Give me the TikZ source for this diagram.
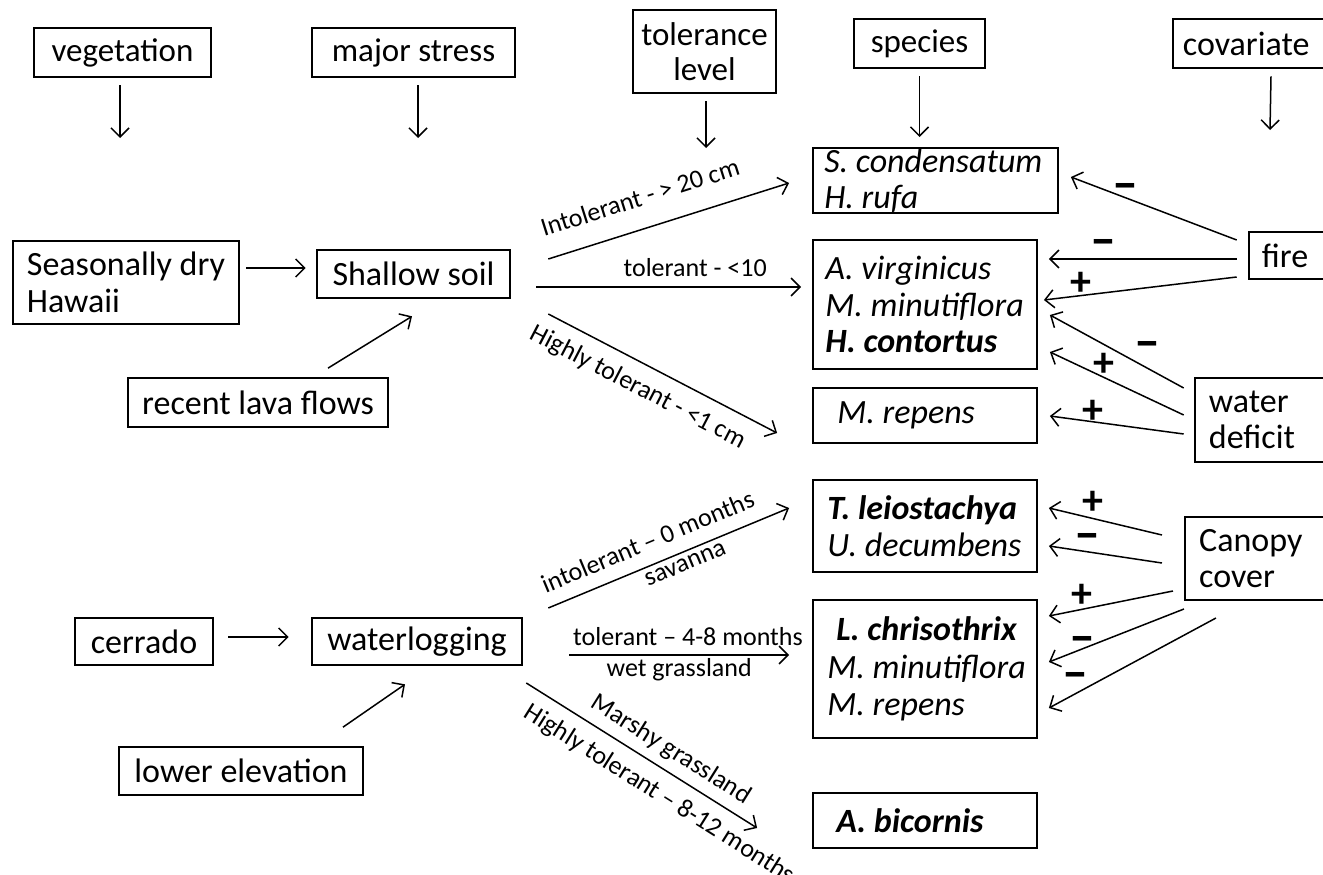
\documentclass[tikz,border=0pt]{standalone}
\usepackage{fontspec}
\setmainfont{Carlito}
\usetikzlibrary{arrows.meta,calc}
\tikzset{
 box/.style={draw, line width=2.6pt, inner xsep=4pt, inner ysep=0pt, font=\fontsize{34}{36.5}\selectfont},
 boxtext/.style={inner sep=0pt, anchor=west, align=left, font=\fontsize{34}{36.5}\selectfont},
 arr/.style={line width=1.5pt, -{Straight Barb[length=9pt,width=18pt]}},
 lab/.style={font=\fontsize{26}{28}\selectfont, sloped, anchor=center, inner sep=0pt, text height=7pt, text depth=2pt},
 minussgn/.style={font=\fontsize{52}{52}\bfseries\selectfont, inner sep=0pt, text height=27pt, text depth=0pt},
 plussgn/.style={font=\fontsize{42}{42}\bfseries\selectfont, inner sep=0pt, text height=28pt, text depth=0pt},
}
% left-aligned box: [opts]{name}{x1}{y1}{x2}{y2}{xsep}{text}
\newcommand{\mybox}[8][]{%
 \pgfmathsetmacro\myBW{#5-#3}\pgfmathsetmacro\myBH{#6-#4}%
 \pgfmathsetmacro\myCX{(#3+#5)/2}\pgfmathsetmacro\myCY{(#4+#6)/2}%
 \node[box,minimum width=\myBW pt,minimum height=\myBH pt,#1] (#2) at (\myCX,\myCY) {};
 \node[boxtext] (#2-t) at ($(#2.west)+(#7,0)$) {#8};}
% centred box: [opts]{name}{x1}{y1}{x2}{y2}{text}
\newcommand{\mycbox}[7][]{%
 \pgfmathsetmacro\myBW{#5-#3}\pgfmathsetmacro\myBH{#6-#4}%
 \pgfmathsetmacro\myCX{(#3+#5)/2}\pgfmathsetmacro\myCY{(#4+#6)/2}%
 \node[box,align=center,minimum width=\myBW pt,minimum height=\myBH pt,#1] (#2) at (\myCX,\myCY) {#7};}
\begin{document}
\begin{tikzpicture}[x=1pt,y=-1pt]
\fill[white] (0,0) rectangle (1323,875);
\useasboundingbox (0,0) rectangle (1323,875);

% header row
\mycbox[font=\fontsize{33}{35}\selectfont]{veg}{34}{28}{211}{77}{vegetation}
\mycbox[font=\fontsize{33}{35}\selectfont]{ms}{312}{28}{515}{77}{major stress}
\mycbox[font=\fontsize{33}{35}\selectfont]{tol}{633}{10}{776}{93}{tolerance\\level}
\mycbox[font=\fontsize{33}{35}\selectfont]{spc}{854}{19}{985}{68}{species}
\mybox{cov}{1173}{19}{1332}{68}{11}{covariate}

\coordinate (vegE) at (120,138);
\coordinate (msE) at (418,138);
\coordinate (tolE) at (706,148);
\coordinate (spcE) at (919.5,137);
\coordinate (covE) at (1270,130);
\draw[arr] ($(veg.south)+(-2.5,7)$) -- (vegE);
\draw[arr] ($(ms.south)+(4.5,7)$) -- (msE);
\draw[arr] ($(tol.south)+(1.5,7)$) -- (tolE);
\draw[arr] ($(spc.south)+(0,7)$) -- (spcE);
\draw[arr] ($(cov.south)+(18.5,7)$) -- (covE);

% left column
\mybox{sd}{13}{241}{239}{324}{15}{Seasonally dry\\Hawaii}
\mycbox{ss}{317}{250}{510}{298}{Shallow soil}
\mycbox[line width=1.7pt]{lava}{128}{378}{388}{427}{recent lava flows}
\mycbox{cer}{75}{618}{213}{665}{cerrado}
\mycbox{wl}{312}{618}{522}{665}{waterlogging}
\mycbox[line width=1.7pt]{le}{119}{747}{363}{795}{lower elevation}

% species
\mybox[line width=1.8pt]{sc}{813}{148}{1058}{213}{12}{\textit{S. condensatum}\\\textit{H. rufa}}
\mybox[line width=1.8pt]{av}{813}{240}{1037}{369}{13}{\textit{A. virginicus}\\\textit{M. minutiflora}\\\textbf{\textit{H. contortus}}}
\mybox[line width=1.8pt]{mr1}{813}{388}{1037}{443}{25}{\textit{M. repens}}
\mybox[line width=1.8pt]{tl}{813}{480}{1037}{572}{15}{\textbf{\textit{T. leiostachya}}\\\textit{U. decumbens}}
\mybox[line width=1.8pt]{lc}{813}{600}{1037}{738}{15}{\hspace*{9pt}\textbf{\textit{L. chrisothrix}}\\[1pt]\textit{M. minutiflora}\\[1pt]\textit{M. repens}}
\mybox[line width=1.8pt]{ab}{813}{793}{1037}{848}{24}{\textbf{\textit{A. bicornis}}}

% covariates
\mybox{fire}{1249}{232}{1332}{279}{14}{fire}
\mybox{wd}{1195}{378}{1332}{462}{15}{water\\deficit}
\mybox[line width=2.1pt]{cc}{1185}{517}{1332}{600}{15}{Canopy\\cover}

% flows
\draw[arr] ($(sd.east)+(6,-14.5)$) -- ($(ss.west)+(-10,-6)$);
\draw[arr] ($(lava.north)+(70,-9)$) -- ($(ss.south)+(-1.5,17)$);
\draw[arr] ($(cer.east)+(14,-4.5)$) -- ($(wl.west)+(-22,-4.5)$);
\draw[arr] ($(le.north)+(102,-19)$) -- ($(wl.south)+(-12,18)$);

\draw[arr] ($(ss.east)+(37,-15)$) -- node[lab,pos=.42,yshift=25pt] (l1) {Intolerant - > 20 cm} ($(sc.west)+(-23,2.5)$);
\draw[arr] ($(ss.east)+(25,13)$) -- node[lab,pos=.60,yshift=13pt] (l2) {tolerant - <10} ($(av.west)+(-11,-17.5)$);
\draw[arr] ($(ss.east)+(37,40)$) -- node[lab,pos=.44,yshift=-28pt] (l3) {Highly tolerant - <1 cm} ($(mr1.west)+(-35,17.5)$);
\draw[arr] ($(wl.east)+(25,-33.5)$) -- node[lab,pos=.45,yshift=17pt] (l4) {intolerant – 0 months} node[lab,pos=.55,yshift=-16pt] (l5) {savanna} ($(tl.west)+(-23,-18)$);
\draw[arr] ($(wl.east)+(46,13.5)$) -- node[lab,pos=.54,yshift=12pt] (l6) {tolerant – 4-8 months} node[lab,pos=.50,yshift=-19pt] (l7) {wet grassland} ($(lc.west)+(-23,-14)$);
\draw[arr] ($(wl.east)+(3,41.5)$) -- node[lab,pos=.58,yshift=16pt] (l8) {Marshy grassland} node[lab,pos=.63,yshift=-28pt] (l9) {Highly tolerant – 8-12 months} ($(ab.west)+(-55,7.5)$);

% covariate effects
\draw[arr] ($(fire.west)+(-11,-15.5)$) -- ($(sc.east)+(12,-3.5)$);
\draw[arr] ($(fire.west)+(-11,3.5)$) -- ($(av.east)+(11,-45.5)$);
\draw[arr] ($(fire.west)+(-11,21.5)$) -- ($(av.east)+(6,-4.5)$);
\draw[arr] ($(wd.west)+(-10,-32)$) -- ($(av.east)+(12,10.5)$);
\draw[arr] ($(wd.west)+(-10,-5)$) -- ($(av.east)+(12,47.5)$);
\draw[arr] ($(wd.west)+(-10,14)$) -- ($(mr1.east)+(12,0.5)$);
\draw[arr] ($(cc.west)+(-22,-23.5)$) -- ($(tl.east)+(11,-18)$);
\draw[arr] ($(cc.west)+(-22,4.5)$) -- ($(tl.east)+(11,20)$);
\draw[arr] ($(cc.west)+(-11,32.5)$) -- ($(lc.east)+(11,-53)$);
\draw[arr] ($(cc.west)+(0,50.5)$) -- ($(lc.east)+(11,-7)$);
\draw[arr] ($(cc.west)+(32,59.5)$) -- ($(lc.east)+(11,39)$);

\node[minussgn] (s1) at (1125,187) {–};
\node[minussgn] (s2) at (1103,243) {–};
\node[plussgn] (s3) at (1081,281) {+};
\node[minussgn] (s4) at (1147,345) {–};
\node[plussgn] (s5) at (1104,362) {+};
\node[plussgn] (s6) at (1093,409) {+};
\node[plussgn] (s7) at (1093,500) {+};
\node[minussgn] (s8) at (1087,537) {–};
\node[plussgn] (s9) at (1082,593) {+};
\node[minussgn] (s10) at (1082,640) {–};
\node[minussgn] (s11) at (1075,676) {–};
\end{tikzpicture}
\end{document}
